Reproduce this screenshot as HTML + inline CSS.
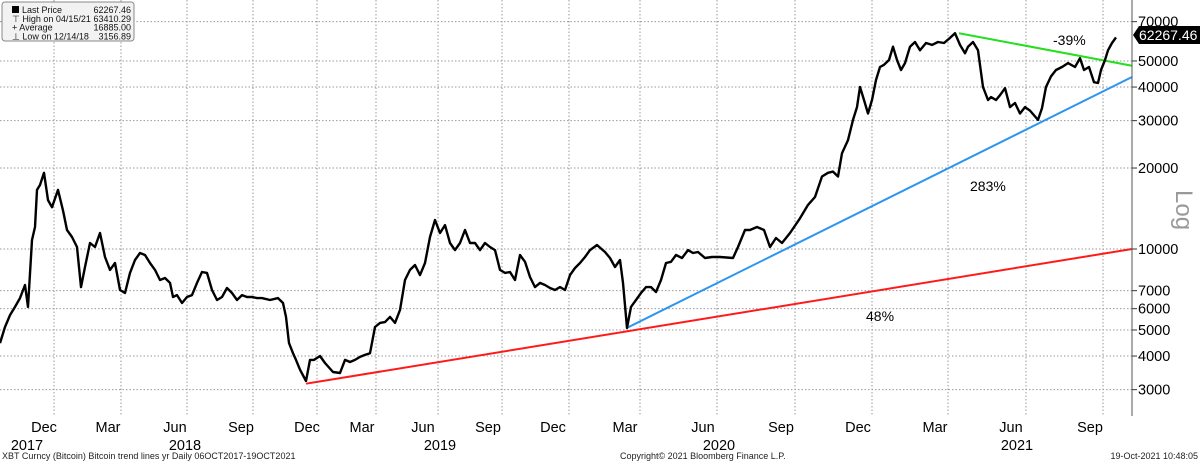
<!DOCTYPE html>
<html><head><meta charset="utf-8">
<style>
html,body{margin:0;padding:0;background:#fff;}
svg{display:block;font-family:"Liberation Sans",Tahoma,sans-serif;}
</style></head>
<body>
<svg id="chart" width="1200" height="462" viewBox="0 0 1200 462" xmlns="http://www.w3.org/2000/svg">
<g id="grid"></g>
<g id="trend"></g>
<g id="series"></g>
<g id="axes"></g>
</svg>
<script>
// time index of sampled points (chart time units) and prices
const tIdx = [0,5,10,15,20,25,28,32,35,37,40,44,48,52,58,63,67,72,77,81,85,90,95,100,105,110,115,120,125,130,135,140,145,150,155,160,165,170,173,177,182,187,192,197,202,207,212,217,222,227,232,237,242,247,252,257,262,270,278,283,286,289,293,296,300,306,310,314,320,325,333,340,345,350,355,360,365,370,375,380,385,390,395,400,405,410,415,420,425,430,435,440,445,450,455,460,465,470,475,480,485,490,495,500,505,510,515,520,525,530,535,540,545,550,555,560,565,570,575,580,585,590,597,605,610,615,620,623,627,631,636,641,646,651,656,661,666,671,676,682,688,693,698,705,712,720,733,738,745,750,757,764,770,776,782,790,800,808,815,822,828,833,838,842,848,853,857,860,864,868,872,876,880,884,889,893,897,901,905,910,915,920,926,932,938,944,950,955,960,965,968,973,978,983,988,991,996,1000,1005,1010,1015,1020,1025,1030,1038,1042,1046,1051,1056,1062,1068,1075,1080,1084,1089,1094,1098,1101,1105,1108,1112,1116];
const prices = [4470,5130,5680,6090,6570,7350,6090,10800,12070,16580,17300,19200,15200,14300,16580,13900,11770,11080,10170,7220,8570,10530,10170,11470,9340,8360,8870,7040,6860,8150,9100,9660,9500,8870,8360,7670,7800,7480,6630,6740,6300,6630,6740,7480,8210,8150,7040,6460,6630,7160,6860,6460,6740,6630,6630,6570,6570,6460,6570,6300,5590,4470,4100,3870,3560,3230,3870,3870,4000,3770,3490,3460,3870,3800,3870,3970,4040,4100,5130,5310,5350,5590,5310,5930,7670,8360,8720,7995,8870,11080,12820,11470,12270,10530,9910,10530,11770,10530,10530,9910,10530,10170,9910,8360,8150,8210,7670,9500,8960,7870,7220,7480,7350,7160,7040,7220,7040,7995,8500,8870,9340,9910,10350,9750,9260,8570,9100,7480,5090,6090,6460,6860,7220,7220,6920,7670,8870,8960,9500,9260,9910,9660,9750,9260,9340,9340,9260,10170,11770,11770,12070,11770,10170,10990,10530,11470,13000,14580,15600,18600,19200,19400,18600,22700,25400,30200,33700,40000,35800,31900,35800,42500,47500,48400,50400,56500,50400,46300,49100,56500,58800,54800,58300,57400,58800,58300,60900,63400,57400,53400,56500,58800,54800,40000,35800,36700,35800,37300,39600,33700,34900,31900,33700,32700,30200,33400,40000,43800,46300,47500,49100,47500,51200,46300,47500,41700,41400,46300,50400,54800,58300,61200];
const yTicks = [3000,4000,5000,6000,7000,10000,20000,30000,40000,50000,70000];
const yTickLabels = ["3000","4000","5000","6000","7000","10000","20000","30000","40000","50000","70000"];
const gridT = [54,121,187,253,317,376,438,502,569,640,717,795,872,948,1026,1103];
const monthLabels = ["Dec","Mar","Jun","Sep","Dec","Mar","Jun","Sep","Dec","Mar","Jun","Sep","Dec","Mar","Jun","Sep"];
const monthT = [44,108,175,241,307,362,423,488,553,625,703,781,858,935,1011,1090];
const yearLabels = ["2017","2018","2019","2020","2021"];
const yearT = [27,185,440,719,1017];
// trend lines: [t0, p0, t1, p1]
const redLine = [306,3157,1132,10000];
const blueLine = [627,5090,1132,43600];
const greenLine = [959,63410,1132,48000];

const NS="http://www.w3.org/2000/svg";
const X0=0,X1=1132,T0=0,T1=1132;
function xs(t){return X0+(t-T0)/(T1-T0)*(X1-X0);}
function ys(p){return 249-269*Math.log10(p/10000);}
function mk(tag,attrs,parent){const e=document.createElementNS(NS,tag);for(const k in attrs)e.setAttribute(k,attrs[k]);parent.appendChild(e);return e;}
const grid=document.getElementById('grid'),axes=document.getElementById('axes'),trend=document.getElementById('trend'),series=document.getElementById('series');

yTicks.forEach((v,i)=>{
  const y=ys(v);
  const l=mk('line',{x1:0,x2:X1,y1:y,y2:y,stroke:'#999','stroke-width':1,'stroke-dasharray':'1.5,2'},grid);
  
  
  const tk=mk('line',{x1:X1,x2:X1+5,y1:y,y2:y,stroke:'#333','stroke-width':1},axes);
  
  
  const tx=mk('text',{x:X1+6,y:y+5,'font-size':14.5,fill:'#000'},axes);
  tx.textContent=yTickLabels[i];
  
  
});
gridT.forEach(t=>{
  const x=xs(t);
  const l=mk('line',{x1:x,x2:x,y1:0,y2:416,stroke:'#999','stroke-width':1,'stroke-dasharray':'1.5,2'},grid);
  
  
});
monthT.forEach((t,i)=>{
  const tx=mk('text',{x:xs(t),y:432,'font-size':14.5,'text-anchor':'middle',fill:'#000'},axes);
  tx.textContent=monthLabels[i];
  
  
});
yearT.forEach((t,i)=>{
  const tx=mk('text',{x:xs(t),y:450,'font-size':14.5,'text-anchor':'middle',fill:'#000'},axes);
  tx.textContent=yearLabels[i];
  
  
});
const ax=mk('line',{x1:X1,x2:X1,y1:0,y2:416,stroke:'#555','stroke-width':1},axes);



function tl(a,col,name){
  const l=mk('line',{x1:xs(a[0]),y1:ys(a[1]),x2:xs(a[2]),y2:ys(a[3]),stroke:col,'stroke-width':2},trend);
  
  
}
tl(redLine,'#ff1a1a','red-trend-line');
tl(blueLine,'#2b95f0','blue-trend-line');
tl(greenLine,'#22e01a','green-trend-line');

const d=tIdx.map((t,i)=>(i?'L':'M')+xs(t).toFixed(1)+','+ys(prices[i]).toFixed(1)).join(' ');
const pl=mk('path',{d:d,fill:'none',stroke:'#000','stroke-width':2.4,'stroke-linejoin':'round'},series);



function txt(x,y,s,size,name,extra){
  const t=mk('text',Object.assign({x:x,y:y,'font-size':size,fill:'#000'},extra||{}),axes);
  t.textContent=s;
  
  
  return t;
}
txt(1053,45,'-39%',14,'label-minus-39');
txt(970,191,'283%',14,'label-283');
txt(866,321,'48%',14,'label-48');
txt(2,459,'XBT Curncy (Bitcoin) Bitcoin trend lines yr  Daily 06OCT2017-19OCT2021',9,'footer-title',{fill:'#222'});
txt(620,459,'Copyright\u00A9 2021 Bloomberg Finance L.P.',9,'footer-copyright',{fill:'#222'});
txt(1198,459,'19-Oct-2021 10:48:05',9,'footer-timestamp',{fill:'#222','text-anchor':'end'});
txt(0,0,'Log',24,'y-axis-scale-label',{fill:'#999',transform:'translate(1176,190) rotate(90)'});

// last price tag
const tag=mk('path',{d:'M1133,35 L1139,26 L1200,26 L1200,44 L1139,44 Z',fill:'#000'},axes);


txt(1139,40,'62267.46',14,'last-price-value',{fill:'#fff'});

// legend
const lgBox=mk('rect',{x:2,y:2,width:132,height:39,rx:3,fill:'#f2f2f2',stroke:'#888','stroke-width':1},axes);


const sq=mk('rect',{x:12,y:6,width:7,height:7,fill:'#000'},axes);


const rows=[['Last Price','62267.46'],['\u22A4 High on 04/15/21','63410.29'],['+ Average','16885.00'],['\u22A5 Low on 12/14/18','3156.89']];
rows.forEach((r,i)=>{
  txt(i==0?22:12,13+i*8.8,r[0],9,'legend-entry-label',{fill:'#111'});
  txt(131,13+i*8.8,r[1],9,'legend-entry-value',{fill:'#111','text-anchor':'end'});
});
</script>
</body></html>
